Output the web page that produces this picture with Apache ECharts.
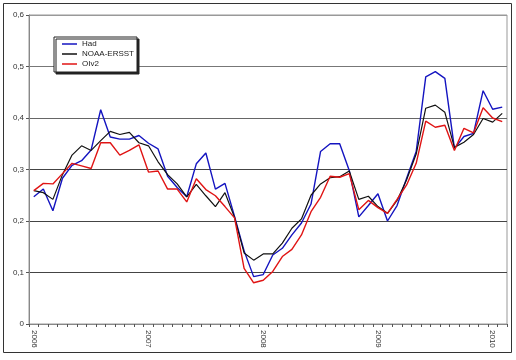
<!DOCTYPE html>
<html>
<head>
<meta charset="utf-8">
<script src="https://cdn.jsdelivr.net/npm/echarts@6/dist/echarts.min.js"></script>
<style>
html,body{margin:0;padding:0;background:#fff;}
#c{width:516px;height:360px;}
</style>
</head>
<body>
<div id="c"></div>
<script>
// Monthly categories Jan 2006 .. Feb 2010
const months = [];
for (let y = 2006; y <= 2010; y++) {
  for (let m = 1; m <= 12; m++) {
    if (y === 2010 && m > 2) break;
    months.push(y + '-' + (m < 10 ? '0' + m : m));
  }
}
const yTicks = [0, 0.1, 0.2, 0.3, 0.4, 0.5, 0.6];

const had = [0.247,0.262,0.220,0.283,0.308,0.317,0.338,0.416,0.363,0.359,
             0.359,0.366,0.351,0.340,0.287,0.265,0.247,0.311,0.332,0.262,
             0.273,0.209,0.142,0.092,0.096,0.134,0.147,0.173,0.196,0.233,
             0.335,0.350,0.350,0.298,0.208,0.230,0.253,0.200,0.230,0.283,
             0.335,0.480,0.490,0.477,0.341,0.364,0.370,0.453,0.417,0.421];
const noaa = [0.259,0.255,0.242,0.290,0.328,0.346,0.337,0.356,0.374,0.368,
              0.372,0.352,0.346,0.315,0.290,0.272,0.247,0.271,0.249,0.228,
              0.255,0.207,0.138,0.124,0.136,0.136,0.157,0.186,0.204,0.250,
              0.272,0.284,0.286,0.297,0.242,0.248,0.228,0.215,0.240,0.280,
              0.330,0.419,0.425,0.411,0.343,0.353,0.368,0.399,0.392,0.409];
const oiv2 = [0.259,0.273,0.272,0.292,0.312,0.307,0.302,0.352,0.352,0.328,
              0.337,0.348,0.295,0.297,0.262,0.262,0.237,0.282,0.261,0.249,
              0.228,0.206,0.108,0.080,0.085,0.102,0.131,0.145,0.173,0.218,
              0.246,0.287,0.285,0.292,0.222,0.240,0.226,0.215,0.242,0.270,
              0.312,0.394,0.382,0.386,0.337,0.380,0.371,0.420,0.400,0.393];

const chart = echarts.init(document.getElementById('c'), null, {renderer: 'canvas'});
const font = 'Liberation Sans, Arial, sans-serif';
chart.setOption({
  animation: false,
  backgroundColor: '#fff',
  textStyle: {fontFamily: font},
  graphic: [{
    type: 'rect', silent: true, z: -1,
    shape: {x: 3.5, y: 3.5, width: 508, height: 349},
    style: {fill: 'none', stroke: '#333', lineWidth: 1}
  }],
  grid: {left: 29, right: 9, top: 15, bottom: 36, show: true, borderColor: '#999', borderWidth: 1},
  legend: {
    orient: 'vertical', left: 54, top: 37,
    data: ['Had', 'NOAA-ERSST', 'OIv2'],
    icon: 'rect', itemWidth: 15, itemHeight: 1.5, itemGap: 0,
    padding: [2, 3, 3, 8],
    backgroundColor: '#fff', borderColor: '#222', borderWidth: 1,
    shadowColor: '#222', shadowOffsetX: 2, shadowOffsetY: 2, shadowBlur: 0,
    textStyle: {fontSize: 8, lineHeight: 10, color: '#222', fontFamily: font}
  },
  xAxis: {
    type: 'category', data: months, boundaryGap: true,
    axisLine: {lineStyle: {color: '#888', width: 1}},
    axisTick: {show: true, interval: 0, length: 3, lineStyle: {color: '#555'}},
    axisLabel: {interval: 11, rotate: -90, fontSize: 8, color: '#333', margin: 6,
      formatter: v => v.slice(0, 4)},
    splitLine: {show: false}
  },
  yAxis: {
    type: 'value', min: 0, max: 0.6, interval: 0.1,
    axisLine: {show: true, lineStyle: {color: '#888', width: 1}},
    axisTick: {show: true, length: 3, lineStyle: {color: '#555'}},
    axisLabel: {fontSize: 8, color: '#333', margin: 5,
      formatter: v => {
        const t = yTicks.reduce((a, b) => Math.abs(b - v) < Math.abs(a - v) ? b : a);
        return t === 0 ? '0' : t.toFixed(1).replace('.', ',');
      }},
    splitLine: {show: true, lineStyle: {color: ['#888', '#444', '#444', '#444', '#666', '#777', '#999'], width: 1}}
  },
  series: [
    {name: 'Had', type: 'line', data: had, symbol: 'none', itemStyle: {color: '#1414c0'},
     lineStyle: {color: '#1414c0', width: 1.4}},
    {name: 'NOAA-ERSST', type: 'line', data: noaa, symbol: 'none', itemStyle: {color: '#111'},
     lineStyle: {color: '#111', width: 1.2}},
    {name: 'OIv2', type: 'line', data: oiv2, symbol: 'none', itemStyle: {color: '#e01414'},
     lineStyle: {color: '#e01414', width: 1.4}}
  ]
});
</script>
</body>
</html>
